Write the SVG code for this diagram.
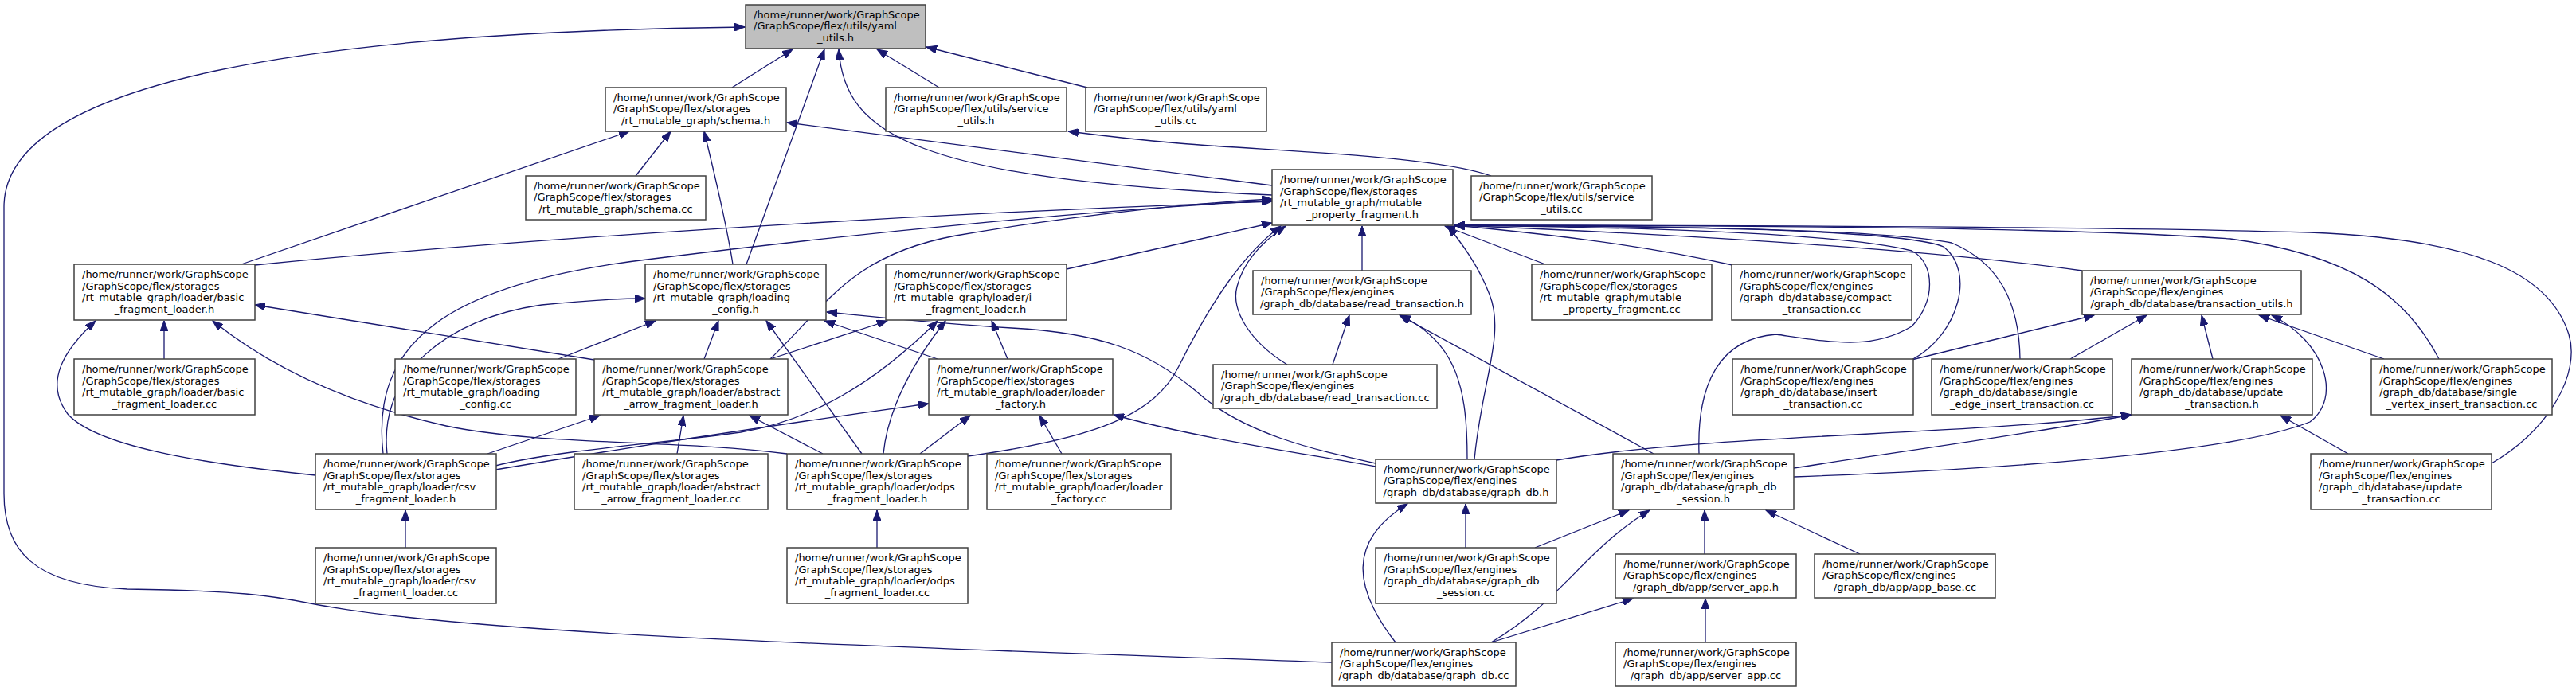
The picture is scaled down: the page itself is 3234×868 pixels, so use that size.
<svg xmlns="http://www.w3.org/2000/svg" width="3234" height="868" viewBox="0 0 3234 868">
<style>
.n rect{fill:#fff;stroke:#404040;stroke-width:1.5}
.n.root rect{fill:#bfbfbf}
.n text{font-family:"DejaVu Sans","Liberation Sans",sans-serif;font-size:13px;fill:#000}
.n .c{text-anchor:middle}
#edges path{fill:none;stroke:#191970;stroke-width:1.3;marker-end:url(#ah)}
</style>
<defs>
<marker id="ah" markerUnits="userSpaceOnUse" markerWidth="14" markerHeight="10" refX="13" refY="5" orient="auto" viewBox="0 0 14 10">
<path d="M0,0 L13,5 L0,10 z" fill="#191970" stroke="#191970" stroke-width="1"/>
</marker>
</defs>
<rect width="3234" height="868" fill="#fff"/>
<g id="edges">
<path d="M919,110 L995,62"/>
<path d="M937,332 L1035,62"/>
<path d="M1597,245 C1150,225 1060,170 1053,62"/>
<path d="M1179,110 L1101,62"/>
<path d="M1365,110 L1163,59"/>
<path d="M1672,832 C1200,815 600,800 390,758 C340,748 300,742 160,740 C40,735 5,690 5,620 L5,260 C5,100 400,40 935,34"/>
<path d="M798,221 L842,165"/>
<path d="M920,332 C912,280 895,210 884,165"/>
<path d="M303,332 L790,165"/>
<path d="M1597,233 L988,154"/>
<path d="M1872,221 C1800,195 1600,190 1480,180 C1420,175 1380,170 1341,165"/>
<path d="M320,333 C600,305 1100,270 1597,253"/>
<path d="M481,570 C465,430 560,355 820,325 C1100,290 1400,262 1597,252"/>
<path d="M967,451 C1040,380 1070,320 1200,296 C1350,270 1500,255 1597,250"/>
<path d="M1339,338 L1597,280"/>
<path d="M1215,573 C1380,550 1450,520 1480,460 C1520,380 1560,320 1608,284"/>
<path d="M1616,458 C1570,430 1545,390 1553,360 C1562,325 1590,300 1614,284"/>
<path d="M1710,340 L1710,284"/>
<path d="M1940,332 L1814,284"/>
<path d="M1851,577 C1860,480 1890,420 1870,370 C1855,330 1830,300 1818,284"/>
<path d="M2175,333 C2050,305 1920,292 1826,283"/>
<path d="M2614,340 C2400,310 2050,292 1826,283"/>
<path d="M2400,452 C2460,420 2480,340 2440,310 C2380,285 2000,284 1826,283"/>
<path d="M2536,451 C2535,380 2510,330 2450,305 C2350,285 2000,284 1826,283"/>
<path d="M3062,451 C3020,370 2950,320 2800,300 C2600,285 2100,283 1826,283"/>
<path d="M3128,582 C3200,540 3240,470 3225,420 C3200,340 3100,300 2900,292 C2600,284 2100,283 1826,283"/>
<path d="M2133,570 C2130,480 2160,425 2230,420 C2300,430 2350,440 2400,410 C2430,380 2430,330 2400,315 C2300,290 2000,285 1826,283"/>
<path d="M206,451 L206,403"/>
<path d="M396,597 C250,582 120,560 85,520 C55,480 80,440 120,403"/>
<path d="M746,452 L320,383"/>
<path d="M988,570 C850,552 680,560 560,535 C450,510 350,470 267,403"/>
<path d="M701,451 L823,403"/>
<path d="M884,451 L902,403"/>
<path d="M1082,570 L962,403"/>
<path d="M1177,451 L1035,403"/>
<path d="M1727,582 C1650,565 1560,545 1500,490 C1440,440 1380,418 1270,412 C1160,405 1100,398 1038,392"/>
<path d="M486,570 C475,470 560,400 680,383 C740,377 780,375 810,375"/>
<path d="M967,451 L1114,403"/>
<path d="M622,585 C700,565 850,555 930,543 C1020,528 1100,480 1177,403"/>
<path d="M622,590 C800,560 1000,530 1166,507"/>
<path d="M612,570 L753,522"/>
<path d="M1109,570 C1115,510 1150,450 1187,403"/>
<path d="M1265,451 L1245,403"/>
<path d="M850,570 L858,522"/>
<path d="M1033,570 L941,522"/>
<path d="M1155,570 L1218,522"/>
<path d="M1333,570 L1305,522"/>
<path d="M1727,586 C1640,570 1500,550 1398,521"/>
<path d="M1101,688 L1101,641"/>
<path d="M509,688 L509,641"/>
<path d="M1673,458 L1694,396"/>
<path d="M1842,577 C1842,490 1830,430 1758,396"/>
<path d="M2076,570 L1757,396"/>
<path d="M1840,688 L1840,633"/>
<path d="M1752,807 C1700,740 1690,680 1767,633"/>
<path d="M1927,688 L2045,641"/>
<path d="M1872,807 C1960,755 1990,690 2071,641"/>
<path d="M2140,696 L2140,641"/>
<path d="M2335,696 L2217,641"/>
<path d="M1872,807 L2050,752"/>
<path d="M2141,807 L2141,752"/>
<path d="M1954,578 C2150,545 2450,548 2676,521"/>
<path d="M2252,588 C2400,565 2550,545 2676,521"/>
<path d="M2252,599 C2500,590 2800,570 2900,530 C2940,500 2920,430 2852,396"/>
<path d="M2948,570 L2863,522"/>
<path d="M2400,452 L2629,396"/>
<path d="M2599,451 L2695,396"/>
<path d="M2778,451 L2764,396"/>
<path d="M2993,451 L2836,396"/>
</g>
<g id="yaml_utils_h" class="n root"><rect x="936" y="6" width="226" height="55"/><text><tspan x="946" y="22.75">/home/runner/work/GraphScope</tspan><tspan x="946" y="37.25">/GraphScope/flex/utils/yaml</tspan><tspan class="c" x="1049" y="51.75">_utils.h</tspan></text></g>
<g id="schema_h" class="n"><rect x="760" y="110" width="227" height="55"/><text><tspan x="770" y="126.75">/home/runner/work/GraphScope</tspan><tspan x="770" y="141.25">/GraphScope/flex/storages</tspan><tspan class="c" x="873.5" y="155.75">/rt_mutable_graph/schema.h</tspan></text></g>
<g id="service_utils_h" class="n"><rect x="1112" y="110" width="227" height="55"/><text><tspan x="1122" y="126.75">/home/runner/work/GraphScope</tspan><tspan x="1122" y="141.25">/GraphScope/flex/utils/service</tspan><tspan class="c" x="1225.5" y="155.75">_utils.h</tspan></text></g>
<g id="yaml_utils_cc" class="n"><rect x="1363" y="110" width="227" height="55"/><text><tspan x="1373" y="126.75">/home/runner/work/GraphScope</tspan><tspan x="1373" y="141.25">/GraphScope/flex/utils/yaml</tspan><tspan class="c" x="1476.5" y="155.75">_utils.cc</tspan></text></g>
<g id="schema_cc" class="n"><rect x="660" y="221" width="226" height="55"/><text><tspan x="670" y="237.75">/home/runner/work/GraphScope</tspan><tspan x="670" y="252.25">/GraphScope/flex/storages</tspan><tspan class="c" x="773" y="266.75">/rt_mutable_graph/schema.cc</tspan></text></g>
<g id="mutable_property_fragment_h" class="n"><rect x="1597" y="213" width="227" height="70"/><text><tspan x="1607" y="230">/home/runner/work/GraphScope</tspan><tspan x="1607" y="244.5">/GraphScope/flex/storages</tspan><tspan x="1607" y="259">/rt_mutable_graph/mutable</tspan><tspan class="c" x="1710.5" y="273.5">_property_fragment.h</tspan></text></g>
<g id="service_utils_cc" class="n"><rect x="1847" y="221" width="227" height="55"/><text><tspan x="1857" y="237.75">/home/runner/work/GraphScope</tspan><tspan x="1857" y="252.25">/GraphScope/flex/utils/service</tspan><tspan class="c" x="1960.5" y="266.75">_utils.cc</tspan></text></g>
<g id="basic_fragment_loader_h" class="n"><rect x="93" y="332" width="227" height="70"/><text><tspan x="103" y="349">/home/runner/work/GraphScope</tspan><tspan x="103" y="363.5">/GraphScope/flex/storages</tspan><tspan x="103" y="378">/rt_mutable_graph/loader/basic</tspan><tspan class="c" x="206.5" y="392.5">_fragment_loader.h</tspan></text></g>
<g id="loading_config_h" class="n"><rect x="810" y="332" width="227" height="70"/><text><tspan x="820" y="349">/home/runner/work/GraphScope</tspan><tspan x="820" y="363.5">/GraphScope/flex/storages</tspan><tspan x="820" y="378">/rt_mutable_graph/loading</tspan><tspan class="c" x="923.5" y="392.5">_config.h</tspan></text></g>
<g id="i_fragment_loader_h" class="n"><rect x="1112" y="332" width="227" height="70"/><text><tspan x="1122" y="349">/home/runner/work/GraphScope</tspan><tspan x="1122" y="363.5">/GraphScope/flex/storages</tspan><tspan x="1122" y="378">/rt_mutable_graph/loader/i</tspan><tspan class="c" x="1225.5" y="392.5">_fragment_loader.h</tspan></text></g>
<g id="read_transaction_h" class="n"><rect x="1573" y="340" width="274" height="55"/><text><tspan x="1583" y="356.75">/home/runner/work/GraphScope</tspan><tspan x="1583" y="371.25">/GraphScope/flex/engines</tspan><tspan class="c" x="1710" y="385.75">/graph_db/database/read_transaction.h</tspan></text></g>
<g id="mutable_property_fragment_cc" class="n"><rect x="1923" y="332" width="226" height="70"/><text><tspan x="1933" y="349">/home/runner/work/GraphScope</tspan><tspan x="1933" y="363.5">/GraphScope/flex/storages</tspan><tspan x="1933" y="378">/rt_mutable_graph/mutable</tspan><tspan class="c" x="2036" y="392.5">_property_fragment.cc</tspan></text></g>
<g id="compact_transaction_cc" class="n"><rect x="2174" y="332" width="226" height="70"/><text><tspan x="2184" y="349">/home/runner/work/GraphScope</tspan><tspan x="2184" y="363.5">/GraphScope/flex/engines</tspan><tspan x="2184" y="378">/graph_db/database/compact</tspan><tspan class="c" x="2287" y="392.5">_transaction.cc</tspan></text></g>
<g id="transaction_utils_h" class="n"><rect x="2614" y="340" width="275" height="55"/><text><tspan x="2624" y="356.75">/home/runner/work/GraphScope</tspan><tspan x="2624" y="371.25">/GraphScope/flex/engines</tspan><tspan class="c" x="2751.5" y="385.75">/graph_db/database/transaction_utils.h</tspan></text></g>
<g id="basic_fragment_loader_cc" class="n"><rect x="93" y="451" width="227" height="70"/><text><tspan x="103" y="468">/home/runner/work/GraphScope</tspan><tspan x="103" y="482.5">/GraphScope/flex/storages</tspan><tspan x="103" y="497">/rt_mutable_graph/loader/basic</tspan><tspan class="c" x="206.5" y="511.5">_fragment_loader.cc</tspan></text></g>
<g id="loading_config_cc" class="n"><rect x="496" y="451" width="227" height="70"/><text><tspan x="506" y="468">/home/runner/work/GraphScope</tspan><tspan x="506" y="482.5">/GraphScope/flex/storages</tspan><tspan x="506" y="497">/rt_mutable_graph/loading</tspan><tspan class="c" x="609.5" y="511.5">_config.cc</tspan></text></g>
<g id="abstract_arrow_fragment_loader_h" class="n"><rect x="746" y="451" width="243" height="70"/><text><tspan x="756" y="468">/home/runner/work/GraphScope</tspan><tspan x="756" y="482.5">/GraphScope/flex/storages</tspan><tspan x="756" y="497">/rt_mutable_graph/loader/abstract</tspan><tspan class="c" x="867.5" y="511.5">_arrow_fragment_loader.h</tspan></text></g>
<g id="loader_factory_h" class="n"><rect x="1166" y="451" width="231" height="70"/><text><tspan x="1176" y="468">/home/runner/work/GraphScope</tspan><tspan x="1176" y="482.5">/GraphScope/flex/storages</tspan><tspan x="1176" y="497">/rt_mutable_graph/loader/loader</tspan><tspan class="c" x="1281.5" y="511.5">_factory.h</tspan></text></g>
<g id="read_transaction_cc" class="n"><rect x="1523" y="458" width="281" height="55"/><text><tspan x="1533" y="474.75">/home/runner/work/GraphScope</tspan><tspan x="1533" y="489.25">/GraphScope/flex/engines</tspan><tspan class="c" x="1663.5" y="503.75">/graph_db/database/read_transaction.cc</tspan></text></g>
<g id="insert_transaction_cc" class="n"><rect x="2175" y="451" width="227" height="70"/><text><tspan x="2185" y="468">/home/runner/work/GraphScope</tspan><tspan x="2185" y="482.5">/GraphScope/flex/engines</tspan><tspan x="2185" y="497">/graph_db/database/insert</tspan><tspan class="c" x="2288.5" y="511.5">_transaction.cc</tspan></text></g>
<g id="single_edge_insert_transaction_cc" class="n"><rect x="2425" y="451" width="227" height="70"/><text><tspan x="2435" y="468">/home/runner/work/GraphScope</tspan><tspan x="2435" y="482.5">/GraphScope/flex/engines</tspan><tspan x="2435" y="497">/graph_db/database/single</tspan><tspan class="c" x="2538.5" y="511.5">_edge_insert_transaction.cc</tspan></text></g>
<g id="update_transaction_h" class="n"><rect x="2676" y="451" width="227" height="70"/><text><tspan x="2686" y="468">/home/runner/work/GraphScope</tspan><tspan x="2686" y="482.5">/GraphScope/flex/engines</tspan><tspan x="2686" y="497">/graph_db/database/update</tspan><tspan class="c" x="2789.5" y="511.5">_transaction.h</tspan></text></g>
<g id="single_vertex_insert_transaction_cc" class="n"><rect x="2977" y="451" width="227" height="70"/><text><tspan x="2987" y="468">/home/runner/work/GraphScope</tspan><tspan x="2987" y="482.5">/GraphScope/flex/engines</tspan><tspan x="2987" y="497">/graph_db/database/single</tspan><tspan class="c" x="3090.5" y="511.5">_vertex_insert_transaction.cc</tspan></text></g>
<g id="csv_fragment_loader_h" class="n"><rect x="396" y="570" width="227" height="70"/><text><tspan x="406" y="587">/home/runner/work/GraphScope</tspan><tspan x="406" y="601.5">/GraphScope/flex/storages</tspan><tspan x="406" y="616">/rt_mutable_graph/loader/csv</tspan><tspan class="c" x="509.5" y="630.5">_fragment_loader.h</tspan></text></g>
<g id="abstract_arrow_fragment_loader_cc" class="n"><rect x="721" y="570" width="243" height="70"/><text><tspan x="731" y="587">/home/runner/work/GraphScope</tspan><tspan x="731" y="601.5">/GraphScope/flex/storages</tspan><tspan x="731" y="616">/rt_mutable_graph/loader/abstract</tspan><tspan class="c" x="842.5" y="630.5">_arrow_fragment_loader.cc</tspan></text></g>
<g id="odps_fragment_loader_h" class="n"><rect x="988" y="570" width="227" height="70"/><text><tspan x="998" y="587">/home/runner/work/GraphScope</tspan><tspan x="998" y="601.5">/GraphScope/flex/storages</tspan><tspan x="998" y="616">/rt_mutable_graph/loader/odps</tspan><tspan class="c" x="1101.5" y="630.5">_fragment_loader.h</tspan></text></g>
<g id="loader_factory_cc" class="n"><rect x="1239" y="570" width="231" height="70"/><text><tspan x="1249" y="587">/home/runner/work/GraphScope</tspan><tspan x="1249" y="601.5">/GraphScope/flex/storages</tspan><tspan x="1249" y="616">/rt_mutable_graph/loader/loader</tspan><tspan class="c" x="1354.5" y="630.5">_factory.cc</tspan></text></g>
<g id="graph_db_h" class="n"><rect x="1727" y="577" width="227" height="55"/><text><tspan x="1737" y="593.75">/home/runner/work/GraphScope</tspan><tspan x="1737" y="608.25">/GraphScope/flex/engines</tspan><tspan class="c" x="1840.5" y="622.75">/graph_db/database/graph_db.h</tspan></text></g>
<g id="graph_db_session_h" class="n"><rect x="2025" y="570" width="227" height="70"/><text><tspan x="2035" y="587">/home/runner/work/GraphScope</tspan><tspan x="2035" y="601.5">/GraphScope/flex/engines</tspan><tspan x="2035" y="616">/graph_db/database/graph_db</tspan><tspan class="c" x="2138.5" y="630.5">_session.h</tspan></text></g>
<g id="update_transaction_cc" class="n"><rect x="2901" y="570" width="227" height="70"/><text><tspan x="2911" y="587">/home/runner/work/GraphScope</tspan><tspan x="2911" y="601.5">/GraphScope/flex/engines</tspan><tspan x="2911" y="616">/graph_db/database/update</tspan><tspan class="c" x="3014.5" y="630.5">_transaction.cc</tspan></text></g>
<g id="csv_fragment_loader_cc" class="n"><rect x="396" y="688" width="227" height="70"/><text><tspan x="406" y="705">/home/runner/work/GraphScope</tspan><tspan x="406" y="719.5">/GraphScope/flex/storages</tspan><tspan x="406" y="734">/rt_mutable_graph/loader/csv</tspan><tspan class="c" x="509.5" y="748.5">_fragment_loader.cc</tspan></text></g>
<g id="odps_fragment_loader_cc" class="n"><rect x="988" y="688" width="227" height="70"/><text><tspan x="998" y="705">/home/runner/work/GraphScope</tspan><tspan x="998" y="719.5">/GraphScope/flex/storages</tspan><tspan x="998" y="734">/rt_mutable_graph/loader/odps</tspan><tspan class="c" x="1101.5" y="748.5">_fragment_loader.cc</tspan></text></g>
<g id="graph_db_session_cc" class="n"><rect x="1727" y="688" width="227" height="70"/><text><tspan x="1737" y="705">/home/runner/work/GraphScope</tspan><tspan x="1737" y="719.5">/GraphScope/flex/engines</tspan><tspan x="1737" y="734">/graph_db/database/graph_db</tspan><tspan class="c" x="1840.5" y="748.5">_session.cc</tspan></text></g>
<g id="server_app_h" class="n"><rect x="2028" y="696" width="227" height="55"/><text><tspan x="2038" y="712.75">/home/runner/work/GraphScope</tspan><tspan x="2038" y="727.25">/GraphScope/flex/engines</tspan><tspan class="c" x="2141.5" y="741.75">/graph_db/app/server_app.h</tspan></text></g>
<g id="app_base_cc" class="n"><rect x="2278" y="696" width="227" height="55"/><text><tspan x="2288" y="712.75">/home/runner/work/GraphScope</tspan><tspan x="2288" y="727.25">/GraphScope/flex/engines</tspan><tspan class="c" x="2391.5" y="741.75">/graph_db/app/app_base.cc</tspan></text></g>
<g id="graph_db_cc" class="n"><rect x="1672" y="807" width="231" height="55"/><text><tspan x="1682" y="823.75">/home/runner/work/GraphScope</tspan><tspan x="1682" y="838.25">/GraphScope/flex/engines</tspan><tspan class="c" x="1787.5" y="852.75">/graph_db/database/graph_db.cc</tspan></text></g>
<g id="server_app_cc" class="n"><rect x="2028" y="807" width="227" height="55"/><text><tspan x="2038" y="823.75">/home/runner/work/GraphScope</tspan><tspan x="2038" y="838.25">/GraphScope/flex/engines</tspan><tspan class="c" x="2141.5" y="852.75">/graph_db/app/server_app.cc</tspan></text></g>
</svg>
